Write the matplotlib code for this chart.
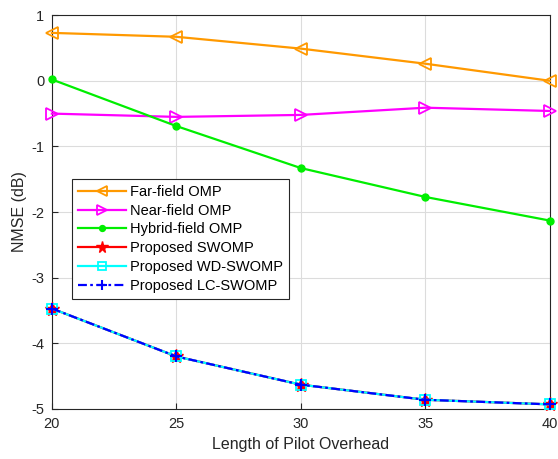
import matplotlib
matplotlib.use("Agg")
import matplotlib.pyplot as plt

plt.rcParams['font.family'] = ['Liberation Sans', 'DejaVu Sans']
plt.rcParams['axes.unicode_minus'] = False

pilot = [20, 25, 30, 35, 40]
far_omp = [0.73, 0.67, 0.49, 0.26, 0.00]
near_omp = [-0.50, -0.55, -0.52, -0.41, -0.46]
hybrid_omp = [0.02, -0.69, -1.33, -1.77, -2.13]
swomp = [-3.47, -4.20, -4.63, -4.86, -4.93]
wd_swomp = [-3.47, -4.20, -4.63, -4.86, -4.93]
lc_swomp = [-3.47, -4.20, -4.63, -4.86, -4.93]

fig = plt.figure(figsize=(5.58, 4.59), dpi=100)
ax = fig.add_axes([0.093, 0.109, 0.8925, 0.858])

ax.plot(pilot, far_omp, color='#FF9900', marker='<', markersize=8, markerfacecolor='none',
        markeredgewidth=1.3, linewidth=1.6, label='Far-field OMP', clip_on=False, zorder=3)
ax.plot(pilot, near_omp, color='#FF00FF', marker='>', markersize=8, markerfacecolor='none',
        markeredgewidth=1.3, linewidth=1.6, label='Near-field OMP', clip_on=False, zorder=3)
ax.plot(pilot, hybrid_omp, color='#00EE00', marker='o', markersize=5,
        linewidth=1.6, label='Hybrid-field OMP', clip_on=False, zorder=3)
ax.plot(pilot, swomp, color='#FF0000', marker='*', markersize=10,
        linewidth=1.6, label='Proposed SWOMP', clip_on=False, zorder=3)
ax.plot(pilot, wd_swomp, color='#00FFFF', marker='s', markersize=7, markerfacecolor='none',
        markeredgewidth=1.3, linewidth=1.6, label='Proposed WD-SWOMP', clip_on=False, zorder=3)
ax.plot(pilot, lc_swomp, color='#0000FF', marker='+', markersize=8, markeredgewidth=1.5,
        dashes=(4, 1.5, 1.2, 1.5), linewidth=1.6, label='Proposed LC-SWOMP', clip_on=False, zorder=4)

ax.set_xlim(20, 40)
ax.set_ylim(-5, 1)
ax.set_xticks([20, 25, 30, 35, 40])
ax.set_yticks([-5, -4, -3, -2, -1, 0, 1])
ax.grid(True, color='#DCDCDC', linewidth=0.8)
ax.set_axisbelow(True)
for s in ax.spines.values():
    s.set_color('#262626')
    s.set_linewidth(0.8)
ax.tick_params(direction='in', length=4, labelsize=10.5, colors='#262626')
ax.tick_params(axis='y', pad=5.5)
ax.tick_params(axis='x', pad=6)
ax.set_xlabel('Length of Pilot Overhead', fontsize=11.5, color='#262626', labelpad=4)
ax.set_ylabel('NMSE (dB)', fontsize=11.5, color='#262626', labelpad=3)

leg = ax.legend(loc='upper left', bbox_to_anchor=(0.040, 0.584), fontsize=10.5,
                frameon=True, fancybox=False, edgecolor='#262626', framealpha=1,
                handlelength=3.3, borderpad=0.4, labelspacing=0.33, handletextpad=0.3,
                borderaxespad=0, markerscale=0.85)
leg.get_frame().set_linewidth(0.8)

fig.savefig('out.png', dpi=100)
